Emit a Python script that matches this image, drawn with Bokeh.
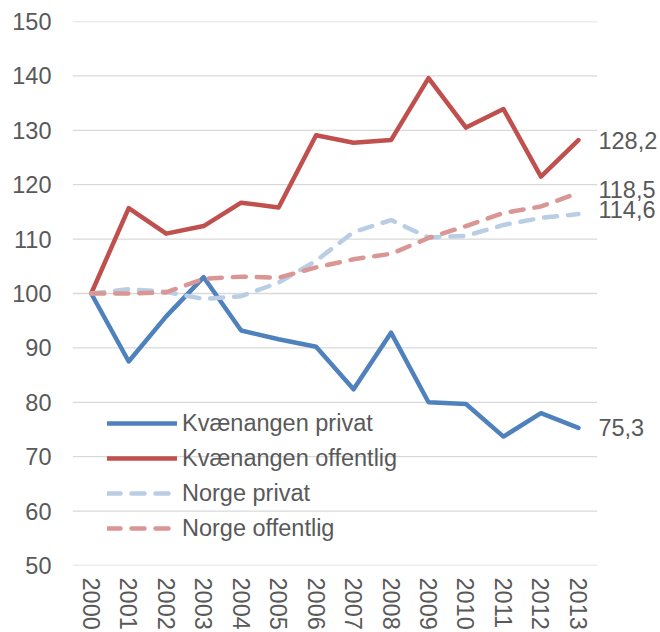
import math
from bokeh.plotting import figure
from bokeh.models import ColumnDataSource, Range1d, FixedTicker, LabelSet
from bokeh.core.properties import value
from bokeh.embed import file_html
from bokeh.resources import INLINE

# ---- data ----
years = [str(y) for y in range(2000, 2014)]
kv_privat = [100, 87.5, 95.8, 103.0, 93.2, 91.6, 90.2, 82.4, 92.8, 80.0, 79.7, 73.7, 78.0, 75.3]
kv_offentlig = [100, 115.7, 111.0, 112.4, 116.7, 115.8, 129.1, 127.7, 128.2, 139.6, 130.5, 133.9, 121.5, 128.2]
norge_privat = [100, 100.8, 100.3, 99.0, 99.5, 102.0, 106.0, 111.3, 113.5, 110.3, 110.6, 112.6, 113.9, 114.6]
norge_offentlig = [100, 100.0, 100.2, 102.7, 103.1, 102.9, 104.8, 106.3, 107.3, 110.2, 112.4, 114.8, 116.0, 118.5]
series_names = ["Kvænangen privat", "Kvænangen offentlig", "Norge privat", "Norge offentlig"]
y_ticks = [50, 60, 70, 80, 90, 100, 110, 120, 130, 140, 150]

# ---- styles ----
FONT = "Liberation Sans"
TEXT_COLOR = "#595959"
GRID = "#D9D9D9"
FS = "23.5px"

xpos = list(range(len(years)))
x_lo = -0.5
x_hi = len(years) - 0.5
x_view_end = 15.19  # extra room on the right for the end labels

p = figure(width=660, height=632, x_range=Range1d(x_lo, x_view_end),
           y_range=Range1d(50, 150), output_backend="svg",
           toolbar_location=None, min_border_left=72, min_border_right=0,
           min_border_top=21, min_border_bottom=10)
p.outline_line_color = None
p.background_fill_color = "white"

# axes
p.yaxis.ticker = FixedTicker(ticks=y_ticks)
p.yaxis.axis_line_color = None
p.yaxis.major_tick_line_color = None
p.yaxis.minor_tick_line_color = None
p.yaxis.major_tick_out = 0
p.yaxis.major_tick_in = 0
p.yaxis.major_label_standoff = 21
p.yaxis.major_label_text_font = FONT
p.yaxis.major_label_text_font_size = FS
p.yaxis.major_label_text_color = TEXT_COLOR

p.xaxis.ticker = FixedTicker(ticks=xpos)
p.xaxis.major_label_overrides = {i: y for i, y in zip(xpos, years)}
p.xaxis.axis_line_color = None
p.xaxis.major_tick_line_color = None
p.xaxis.minor_tick_line_color = None
p.xaxis.major_tick_out = 0
p.xaxis.major_tick_in = 0
p.xaxis.major_label_standoff = 12
p.xaxis.major_label_orientation = -math.pi / 2
p.xaxis.major_label_text_font = FONT
p.xaxis.major_label_text_font_size = FS
p.xaxis.major_label_text_color = TEXT_COLOR

p.xgrid.grid_line_color = None
p.ygrid.grid_line_color = None

# horizontal gridlines limited to the category span
p.segment(x0=[x_lo] * len(y_ticks), x1=[x_hi] * len(y_ticks), y0=y_ticks, y1=y_ticks,
          line_color=GRID, line_width=1.3)

src = ColumnDataSource(dict(x=xpos, kp=kv_privat, ko=kv_offentlig,
                            np_=norge_privat, no=norge_offentlig))

LW = 4.5
p.line("x", "kp", source=src, line_color="#4F81BD", line_width=LW,
       line_join="round", line_cap="round", legend_label=series_names[0])
p.line("x", "ko", source=src, line_color="#C0504D", line_width=LW,
       line_join="round", line_cap="round", legend_label=series_names[1])
p.line("x", "np_", source=src, line_color="#B9CDE5", line_width=LW,
       line_dash="13 11", line_join="round", line_cap="round",
       legend_label=series_names[2])
p.line("x", "no", source=src, line_color="#D99694", line_width=LW,
       line_dash="13 11", line_join="round", line_cap="round",
       legend_label=series_names[3])

# end labels
end_vals = [kv_offentlig[-1], norge_offentlig[-1], norge_privat[-1], kv_privat[-1]]
lab_src = ColumnDataSource(dict(
    x=[xpos[-1]] * 4,
    y=end_vals,
    text=[f"{v:.1f}".replace(".", ",") for v in end_vals],
    dy=[0, 3, 5, 0],
))
labels = LabelSet(x="x", y="y", text="text", source=lab_src, x_offset=20,
                  y_offset="dy", text_baseline="middle", text_align="left",
                  text_font=value(FONT), text_font_size=value(FS),
                  text_color=TEXT_COLOR)
p.add_layout(labels)

# legend
leg = p.legend[0]
leg.location = (35, 22)
leg.background_fill_alpha = 0
leg.border_line_color = None
leg.padding = 0
leg.margin = 0
leg.spacing = 5
leg.glyph_width = 70
leg.glyph_height = 30
leg.label_height = 30
leg.label_standoff = 5
leg.label_text_font = FONT
leg.label_text_font_size = FS
leg.label_text_color = TEXT_COLOR

open("out.html", "w").write(file_html(p, INLINE))
